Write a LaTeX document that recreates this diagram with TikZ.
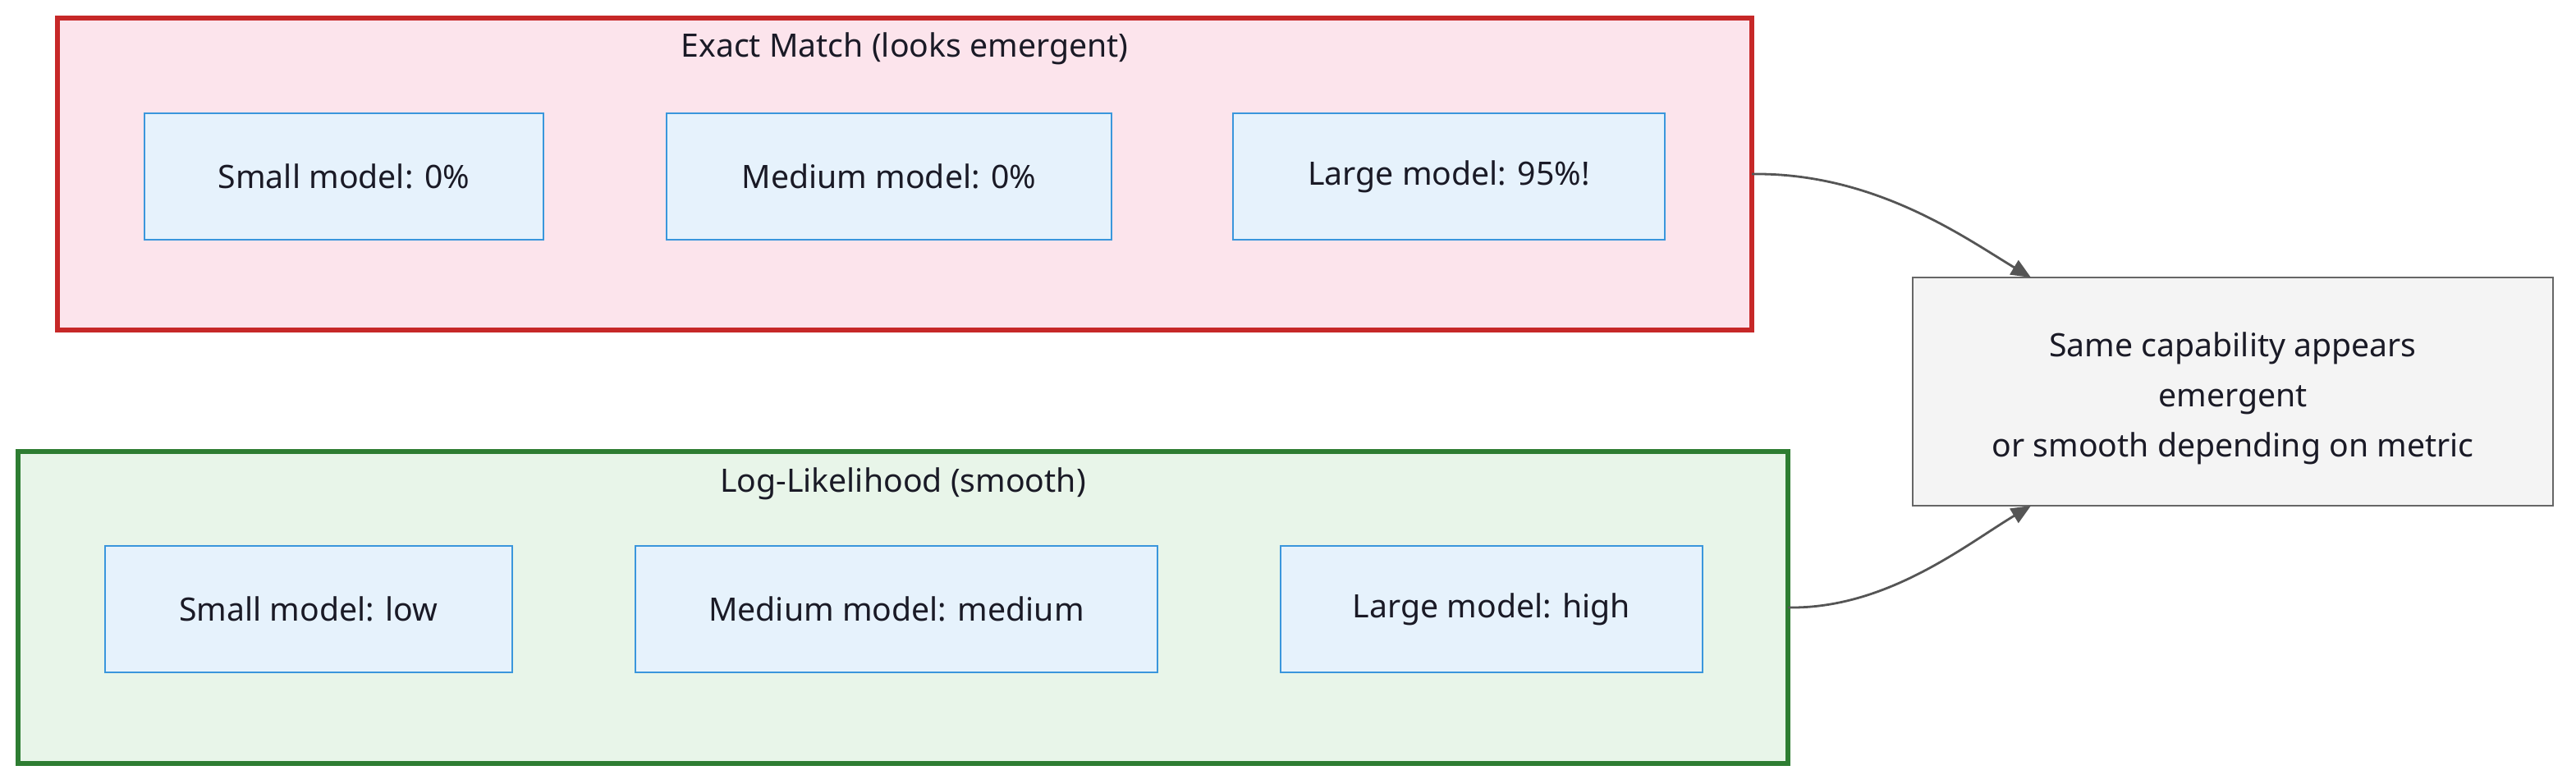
\documentclass[tikz,border=0pt]{standalone}
\usepackage{fontspec}
\setmainfont{Noto Sans}
\usetikzlibrary{arrows.meta,calc}
\definecolor{redfill}{HTML}{FCE4EC}
\definecolor{redline}{HTML}{C62828}
\definecolor{greenfill}{HTML}{E8F5E9}
\definecolor{greenline}{HTML}{2E7D32}
\definecolor{bluefill}{HTML}{E6F2FC}
\definecolor{blueline}{HTML}{3A96DC}
\definecolor{grayfill}{HTML}{F4F4F4}
\definecolor{grayline}{HTML}{666666}
\definecolor{txt}{HTML}{1A1A26}
\definecolor{arrowc}{HTML}{555555}
\tikzset{
  cluster/.style={draw, line width=2.6pt, inner sep=0pt, outer sep=0pt},
  ctitle/.style={font=\fontsize{19.6}{24}\selectfont, text=txt, inner sep=0pt},
  model/.style={draw=blueline, fill=bluefill, line width=1.3pt, inner sep=0pt, outer sep=0pt,
    minimum height=77pt, font=\fontsize{19.6}{24}\selectfont, text=txt},
  result/.style={draw=grayline, fill=grayfill, line width=1.3pt, inner sep=0pt, outer sep=0pt,
    minimum width=390pt, minimum height=139pt},
  resulttext/.style={align=center, inner sep=0pt, font=\fontsize{19.6}{30.5}\selectfont, text=txt},
  link/.style={draw=arrowc, line width=1.4pt, -{Triangle[length=12pt,width=10pt]}}
}
\begin{document}
\begin{tikzpicture}[x=1pt,y=-1pt]
\useasboundingbox (0,0) rectangle (1569,477);
% clusters
\node[cluster, draw=redline, fill=redfill, minimum width=1032pt, minimum height=190pt] (ex) at (551,106) {};
\node[ctitle] (extitle) at (551,29.5) {Exact Match (looks emergent)};
\node[cluster, draw=greenline, fill=greenfill, minimum width=1078pt, minimum height=190pt] (ll) at (550,370) {};
\node[ctitle] (lltitle) at (550,294.5) {Log-Likelihood (smooth)};
% model nodes
\node[model, minimum width=243pt] (a1) at (209.5,107.5) {Small model: 0\%};
\node[model, minimum width=271pt] (a2) at (541.5,107.5) {Medium model: 0\%};
\node[model, minimum width=263pt] (a3) at (882.5,107.5) {Large model: 95\%!};
\node[model, minimum width=248pt] (b1) at (188,371) {Small model: low};
\node[model, minimum width=318pt] (b2) at (546,371) {Medium model: medium};
\node[model, minimum width=257pt] (b3) at (908.5,371) {Large model: high};
% result
\node[result] (res) at (1360,238.5) {};
\node[resulttext] (restext) at (1360,242.5) {Same capability appears\\emergent\\or smooth depending on metric};
\coordinate (rtop) at ($(res.north)+(-123,0)$);
\coordinate (rbot) at ($(res.south)+(-123,0)$);
% connectors
\draw[link] (ex.east) .. controls +(75,-1) and +(-40,-24) .. (rtop);
\draw[link] (ll.east) .. controls +(60,1) and +(-40,24) .. (rbot);
\end{tikzpicture}
\end{document}
